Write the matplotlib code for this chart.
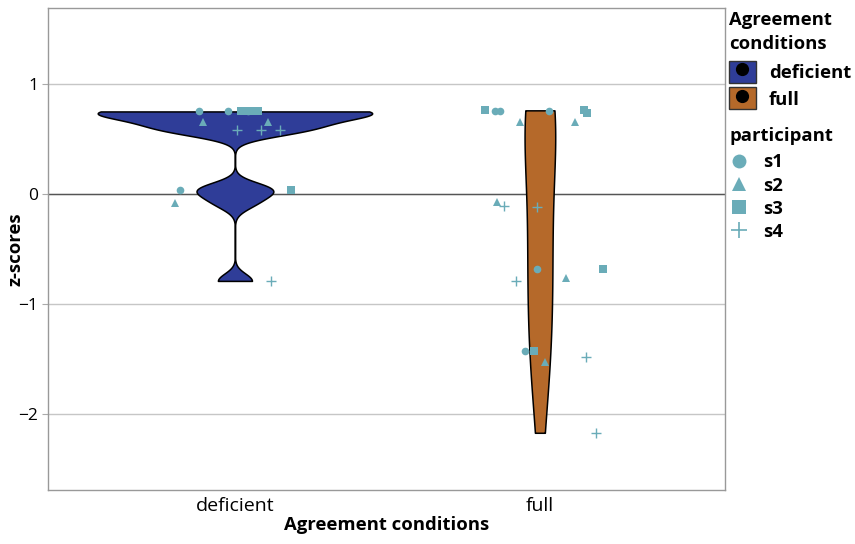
import numpy as np
import matplotlib
matplotlib.use('Agg')
import matplotlib.pyplot as plt
from matplotlib.patches import Patch
from matplotlib.lines import Line2D

plt.rcParams['font.family'] = ['Open Sans', 'DejaVu Sans']

# categories and colours
conditions = ['deficient', 'full']
cond_colors = ['#2f3d98', '#b5692a']
participants = ['s1', 's2', 's3', 's4']
part_markers = ['o', '^', 's', '+']
point_color = '#6aacb8'

# z-scores per condition and participant, with the horizontal jitter
deficient_z = {
    's1': [0.75, 0.75, 0.75, 0.04],
    's2': [0.655, 0.655, -0.08],
    's3': [0.75, 0.75, 0.75, 0.75, 0.04],
    's4': [0.58, 0.58, 0.58, -0.79],
}
deficient_jit = {
    's1': [-0.118, -0.023, 0.044, -0.18],
    's2': [-0.105, 0.108, -0.197],
    's3': [0.020, 0.036, 0.055, 0.075, 0.184],
    's4': [0.007, 0.085, 0.148, 0.118],
}
full_z = {
    's1': [0.75, 0.75, 0.75, -0.68, -1.43],
    's2': [0.655, 0.655, -0.07, -0.76, -1.53],
    's3': [0.76, 0.76, 0.735, -0.68, -1.43],
    's4': [-0.11, -0.12, -0.79, -1.48, -2.17],
}
full_jit = {
    's1': [-0.148, -0.131, 0.030, -0.010, -0.049],
    's2': [-0.066, 0.115, -0.141, 0.085, 0.016],
    's3': [-0.180, 0.144, 0.154, 0.207, -0.020],
    's4': [-0.118, -0.010, -0.079, 0.151, 0.184],
}
bandwidths = [0.068, 0.58]

groups_z = [deficient_z, full_z]
groups_jit = [deficient_jit, full_jit]


def kde(values, bw, grid):
    values = np.asarray(values)
    d = (grid[:, None] - values[None, :]) / bw
    return np.exp(-0.5 * d ** 2).sum(axis=1) / (len(values) * bw * np.sqrt(2 * np.pi))


fig = plt.figure(figsize=(8.55, 5.44), dpi=100)
ax = fig.add_axes([48 / 855, 54 / 544, 677 / 855, 482 / 544])

ax.set_xlim(0.387, 2.607)
ax.set_ylim(-2.69, 1.69)
ax.set_yticks([-2, -1, 0, 1])
ax.yaxis.grid(True, color='#c6c6c6', lw=1)
ax.set_axisbelow(True)
ax.axhline(0, color='#555555', lw=1, zorder=1)

# violins (trimmed, area-scaled like ggplot)
dens = []
for gz, bw in zip(groups_z, bandwidths):
    vals = np.concatenate([gz[p] for p in participants])
    grid = np.linspace(vals.min(), vals.max(), 512)
    dens.append((grid, kde(vals, bw, grid)))
dmax = max(d.max() for _, d in dens)
for i, (grid, d) in enumerate(dens):
    w = d / dmax * 0.45
    ax.fill_betweenx(grid, i + 1 - w, i + 1 + w, facecolor=cond_colors[i],
                     edgecolor='black', lw=1.1, zorder=2)

# jittered points
for i, (gz, gj) in enumerate(zip(groups_z, groups_jit)):
    for p, m in zip(participants, part_markers):
        x = np.array(gj[p]) + i + 1
        if m == '+':
            ax.plot(x, gz[p], linestyle='', marker=m, ms=7, mew=1, color=point_color, zorder=3)
        else:
            ax.plot(x, gz[p], linestyle='', marker=m, ms=5.5, mew=0, color=point_color, zorder=3)

ax.set_xticks([1, 2])
ax.set_xticklabels(conditions, fontsize=14)
ax.tick_params(axis='x', length=0, pad=5)
ax.tick_params(axis='y', length=4, color='#aaaaaa', labelsize=12.5, pad=3)
for s in ax.spines.values():
    s.set_color('#999999')
    s.set_linewidth(1)

ax.set_xlabel('Agreement conditions', fontsize=13.3, fontweight='bold', labelpad=1)
ax.set_ylabel('z-scores', fontsize=13.3, fontweight='bold')
ax.yaxis.set_label_coords(-24 / 677, 0.5)

# legends
cond_handles = [(Patch(facecolor=c, edgecolor='#333333', lw=1),
                 Line2D([], [], linestyle='', marker='o', ms=8.5, color='black'))
                for c in cond_colors]
leg1 = fig.legend(cond_handles, conditions, title='Agreement\nconditions',
                  loc='upper left', bbox_to_anchor=(729 / 855, 1 - 11 / 544),
                  frameon=False, alignment='left', handlelength=1.45, handleheight=1.45,
                  handletextpad=0.7, labelspacing=0.25, borderpad=0, borderaxespad=0,
                  prop={'weight': 'bold', 'size': 13.3},
                  title_fontproperties={'weight': 'bold', 'size': 13.3})
leg1.get_title().set_linespacing(1.4)
leg1._legend_box.sep = 6

part_handles = [Line2D([], [], linestyle='', marker=m, ms=(12 if m == '+' else 10),
                       mew=(1.2 if m == '+' else 0), color=point_color)
                for m in part_markers]
leg2 = fig.legend(part_handles, participants, title='participant',
                  loc='upper left', bbox_to_anchor=(729 / 855, 1 - 127 / 544),
                  frameon=False, alignment='left', handlelength=1.1,
                  handletextpad=0.75, labelspacing=0.28, borderpad=0, borderaxespad=0,
                  prop={'weight': 'bold', 'size': 13.3},
                  title_fontproperties={'weight': 'bold', 'size': 13.3})
leg2._legend_box.sep = 6

fig.savefig('out.png', dpi=100)
